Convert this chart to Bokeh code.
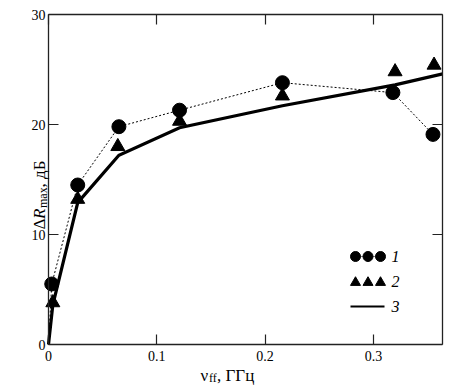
import math
from bokeh.plotting import figure
from bokeh.models import Label, LinearAxis, Range1d, FixedTicker
from bokeh.embed import file_html
from bokeh.resources import INLINE

# ---------------- data ----------------
nu_1 = [0.0, 0.003, 0.027, 0.065, 0.121, 0.216, 0.318, 0.355]
dR_1 = [0.0, 5.5, 14.5, 19.8, 21.3, 23.8, 22.9, 19.1]

nu_2 = [0.0, 0.004, 0.027, 0.064, 0.121, 0.216, 0.320, 0.356]
dR_2 = [0.0, 3.8, 13.2, 18.0, 20.3, 22.6, 24.8, 25.4]

nu_3 = [0.0, 0.004, 0.027, 0.065, 0.121, 0.216, 0.320, 0.364]
dR_3 = [0.0, 3.6, 12.9, 17.2, 19.7, 21.7, 23.6, 24.6]

x_ticks = [0, 0.1, 0.2, 0.3]
x_tick_labels = ["0", "0.1", "0.2", "0.3"]
y_ticks = [0, 10, 20, 30]
y_tick_labels = ["0", "10", "20", "30"]
legend_labels = ["1", "2", "3"]

X_MAX = 0.3638
Y_MAX = 30

# ---------------- layout (pixel box of the axes inside the canvas) ----------------
FONT = "Liberation Serif"
W, H = 465, 387
BOX_L, BOX_R, BOX_T, BOX_B = 48, 442, 14, 344


def px_x(px):
    return (px - BOX_L) / (BOX_R - BOX_L) * X_MAX


def px_y(py):
    return (BOX_B - py) / (BOX_B - BOX_T) * Y_MAX


p = figure(width=W, height=H, output_backend="svg", toolbar_location=None,
           x_range=Range1d(px_x(0), px_x(W)), y_range=Range1d(px_y(H), px_y(0)),
           min_border=0, min_border_left=0, min_border_right=0,
           min_border_top=0, min_border_bottom=0,
           x_axis_type=None, y_axis_type=None)
p.xgrid.visible = False
p.ygrid.visible = False
p.outline_line_color = None
p.background_fill_color = "white"
p.border_fill_color = "white"


def style_axis(ax, ticks, labels, show_labels, standoff):
    ax.ticker = FixedTicker(ticks=ticks)
    ax.major_label_overrides = {t: l for t, l in zip(ticks, labels)}
    ax.axis_line_color = "#222222"
    ax.axis_line_width = 1.3
    ax.major_tick_line_color = "#222222"
    ax.major_tick_line_width = 1.2
    ax.major_tick_in = 10
    ax.major_tick_out = 0
    ax.minor_tick_line_color = None
    ax.major_label_text_font = FONT
    ax.major_label_text_color = "black"
    if show_labels:
        ax.major_label_text_font_size = "14px"
        ax.major_label_standoff = standoff
    else:
        ax.major_label_text_font_size = "0px"
        ax.major_label_standoff = 0
        ax.major_label_text_alpha = 0


for loc, fixed, bnds, ticks, labels, show, so in [
        ("below", 0, (0, X_MAX), x_ticks, x_tick_labels, True, 6),
        ("above", Y_MAX, (0, X_MAX), x_ticks, x_tick_labels, False, 0),
        ("left", 0, (0, Y_MAX), y_ticks, y_tick_labels, True, 3),
        ("right", X_MAX, (0, Y_MAX), y_ticks, y_tick_labels, False, 0)]:
    ax = LinearAxis(fixed_location=fixed, bounds=bnds)
    style_axis(ax, ticks, labels, show, so)
    p.add_layout(ax, loc)

# ---------------- series ----------------
p.line(nu_1, dR_1, line_color="black", line_width=1, line_dash="2 2")
p.scatter(nu_1[1:], dR_1[1:], marker="circle", size=14, fill_color="black", line_color="black")

p.scatter(nu_2[1:], dR_2[1:], marker="triangle", size=14, fill_color="black", line_color="black")

p.line(nu_3, dR_3, line_color="black", line_width=3.2, line_join="miter")

# ---------------- legend (pixel layout) ----------------
leg_xs = [355, 367.5, 380]
p.line([px_x(v) for v in leg_xs], [px_y(256)] * 3, line_color="black", line_width=1, line_dash="1 1")
p.scatter([px_x(v) for v in leg_xs], [px_y(256)] * 3, marker="circle", size=10,
          fill_color="black", line_color="black")
p.scatter([px_x(v) for v in leg_xs], [px_y(282)] * 3, marker="triangle", size=10,
          fill_color="black", line_color="black")
p.line([px_x(350), px_x(384)], [px_y(306)] * 2, line_color="black", line_width=2)

for lab, py in zip(legend_labels, [256, 281, 306]):
    p.add_layout(Label(x=391, y=H - py, x_units="screen", y_units="screen",
                       text=lab, text_font=FONT, text_font_size="16px", text_font_style="italic",
                       text_baseline="middle", text_align="left", text_color="black"))


# ---------------- axis titles (rich text pieces) ----------------
def add_label(text, px, py, size, style="normal", angle=0.0):
    p.add_layout(Label(x=px, y=H - py, x_units="screen", y_units="screen", text=text,
                       text_font=FONT, text_font_size=f"{size}px", text_font_style=style,
                       text_baseline="alphabetic", text_align="left", angle=angle,
                       text_color="black"))


# y title: ΔR_max, дБ   (rotated, reading upward); start at page (39, 228)
A = math.pi / 2
bx, by = 39, 229
add_label("Δ", bx, by, 17, angle=A)
add_label("R", bx, by - 10.5, 17, "italic", angle=A)
add_label("max", bx + 3, by - 21.5, 12, angle=A)
add_label(", дБ", bx, by - 42, 17, angle=A)

# x title: ν_ff, ГГц ; start at page (200, 375)
tx, ty = 200, 375
add_label("ν", tx, ty, 17)
add_label("ff", tx + 8.5, ty + 2, 12)
add_label(", ГГц", tx + 16.5, ty, 17)

open("out.html", "w").write(file_html(p, INLINE))
